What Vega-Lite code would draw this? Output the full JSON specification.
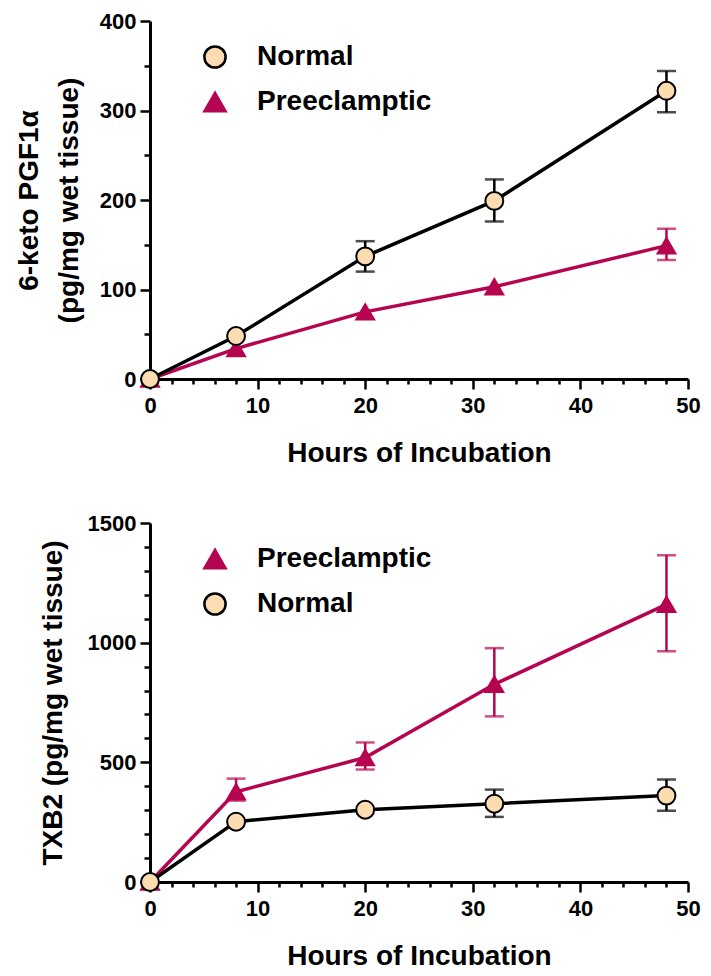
{
  "$schema": "https://vega.github.io/schema/vega-lite/v6.json",
  "background": "white",
  "padding": {"left": 15, "top": 10, "right": 5, "bottom": 5},
  "spacing": 45,
  "config": {
    "view": {"stroke": null},
    "axis": {
      "grid": false,
      "domainColor": "black",
      "domainWidth": 3,
      "tickColor": "black",
      "tickWidth": 2.5,
      "labelFont": "Liberation Sans",
      "labelFontWeight": "bold",
      "labelFontSize": 22,
      "labelColor": "black",
      "labelOverlap": false,
      "labelFlush": false,
      "titleFont": "Liberation Sans",
      "titleFontWeight": "bold",
      "titleFontSize": 28,
      "titleColor": "black"
    },
    "legend": {
      "labelFont": "Liberation Sans",
      "labelFontWeight": "bold",
      "labelFontSize": 28,
      "labelColor": "black",
      "labelLimit": 400
    }
  },
  "datasets": {
    "keto": [
      {"group": "Preeclamptic", "hours": 0, "value": 0, "lo": null, "hi": null},
      {"group": "Preeclamptic", "hours": 8, "value": 34, "lo": null, "hi": null},
      {"group": "Preeclamptic", "hours": 20, "value": 75, "lo": null, "hi": null},
      {"group": "Preeclamptic", "hours": 32, "value": 103, "lo": null, "hi": null},
      {"group": "Preeclamptic", "hours": 48, "value": 149, "lo": 133, "hi": 168},
      {"group": "Normal", "hours": 0, "value": 0, "lo": null, "hi": null},
      {"group": "Normal", "hours": 8, "value": 48, "lo": null, "hi": null},
      {"group": "Normal", "hours": 20, "value": 137, "lo": 120, "hi": 154},
      {"group": "Normal", "hours": 32, "value": 199, "lo": 176, "hi": 223},
      {"group": "Normal", "hours": 48, "value": 322, "lo": 298, "hi": 344}
    ],
    "txb2": [
      {"group": "Preeclamptic", "hours": 0, "value": 0, "lo": null, "hi": null},
      {"group": "Preeclamptic", "hours": 8, "value": 377, "lo": 340, "hi": 432},
      {"group": "Preeclamptic", "hours": 20, "value": 520, "lo": 470, "hi": 583},
      {"group": "Preeclamptic", "hours": 32, "value": 826, "lo": 692, "hi": 977},
      {"group": "Preeclamptic", "hours": 48, "value": 1160, "lo": 964, "hi": 1365},
      {"group": "Normal", "hours": 0, "value": 0, "lo": null, "hi": null},
      {"group": "Normal", "hours": 8, "value": 252, "lo": null, "hi": null},
      {"group": "Normal", "hours": 20, "value": 302, "lo": null, "hi": null},
      {"group": "Normal", "hours": 32, "value": 327, "lo": 272, "hi": 386},
      {"group": "Normal", "hours": 48, "value": 361, "lo": 298, "hi": 428}
    ]
  },
  "resolve": {
    "scale": {"x": "independent", "y": "independent", "stroke": "independent", "fill": "independent", "shape": "independent", "color": "independent"},
    "legend": {"shape": "independent", "stroke": "independent", "fill": "independent", "color": "independent"}
  },
  "vconcat": [
    {
      "width": 538,
      "height": 358,
      "data": {"name": "keto"},
      "encoding": {
        "x": {
          "field": "hours", "type": "quantitative",
          "scale": {"domain": [0, 50], "nice": false, "zero": false},
          "axis": {
            "title": "Hours of Incubation",
            "values": [0,2,4,6,8,10,12,14,16,18,20,22,24,26,28,30,32,34,36,38,40,42,44,46,48,50],
            "labelExpr": "datum.value % 10 === 0 ? datum.label : ''",
            "tickSize": {"condition": {"test": "datum.value % 10 === 0", "value": 10}, "value": 5},
            "labelPadding": 6,
            "titlePadding": 23
          }
        },
        "y": {
          "field": "value", "type": "quantitative",
          "scale": {"domain": [0, 400], "nice": false},
          "axis": {
            "title": ["6-keto PGF1α", "(pg/mg wet tissue)"],
            "titleLineHeight": 40,
            "values": [0,50,100,150,200,250,300,350,400],
            "format": "d",
            "labelExpr": "datum.value % 100 === 0 ? datum.label : ''",
            "tickSize": {"condition": {"test": "datum.value % 100 === 0", "value": 10}, "value": 6},
            "labelPadding": 4,
            "titlePadding": 16
          }
        }
      },
      "layer": [
        {
          "transform": [{"filter": "datum.lo != null"}],
          "mark": {"type": "errorbar", "ticks": true, "size": 19, "thickness": 2.5},
          "encoding": {
            "y": {"field": "lo", "type": "quantitative"},
            "y2": {"field": "hi"},
            "color": {"field": "group", "type": "nominal", "scale": {"range": ["#000000", "#b50550"]}, "legend": null}
          }
        },
        {
          "mark": {"type": "line", "strokeWidth": 3.5},
          "encoding": {
            "stroke": {"field": "group", "type": "nominal", "scale": {"domain": ["Normal", "Preeclamptic"], "range": ["#000000", "#b50550"]}}
          }
        },
        {
          "mark": {"type": "point", "filled": false, "size": 320, "strokeWidth": 2, "opacity": 1, "fillOpacity": 1},
          "encoding": {
            "stroke": {"field": "group", "type": "nominal", "scale": {"domain": ["Normal", "Preeclamptic"], "range": ["#000000", "#b50550"]}},
            "fill": {"field": "group", "type": "nominal", "scale": {"domain": ["Normal", "Preeclamptic"], "range": ["#fddcb2", "#b50550"]}},
            "shape": {
              "field": "group", "type": "nominal",
              "scale": {"domain": ["Normal", "Preeclamptic"], "range": ["circle", "triangle-up"]},
              "legend": {
                "title": null, "orient": "none", "legendX": 51, "legendY": 22,
                "symbolSize": 450, "symbolStrokeWidth": 2.5, "rowPadding": 14, "labelOffset": 28, "padding": 0
              }
            }
          }
        }
      ]
    },
    {
      "width": 538,
      "height": 359,
      "data": {"name": "txb2"},
      "encoding": {
        "x": {
          "field": "hours", "type": "quantitative",
          "scale": {"domain": [0, 50], "nice": false, "zero": false},
          "axis": {
            "title": "Hours of Incubation",
            "values": [0,2,4,6,8,10,12,14,16,18,20,22,24,26,28,30,32,34,36,38,40,42,44,46,48,50],
            "labelExpr": "datum.value % 10 === 0 ? datum.label : ''",
            "tickSize": {"condition": {"test": "datum.value % 10 === 0", "value": 10}, "value": 5},
            "labelPadding": 6,
            "titlePadding": 23
          }
        },
        "y": {
          "field": "value", "type": "quantitative",
          "scale": {"domain": [0, 1500], "nice": false},
          "axis": {
            "title": "TXB2 (pg/mg wet tissue)",
            "values": [0,100,200,300,400,500,600,700,800,900,1000,1100,1200,1300,1400,1500],
            "format": "d",
            "labelExpr": "datum.value % 500 === 0 ? datum.label : ''",
            "tickSize": {"condition": {"test": "datum.value % 500 === 0", "value": 10}, "value": 6},
            "labelPadding": 4,
            "titlePadding": 20
          }
        }
      },
      "layer": [
        {
          "transform": [{"filter": "datum.lo != null"}],
          "mark": {"type": "errorbar", "ticks": true, "size": 19, "thickness": 2.5},
          "encoding": {
            "y": {"field": "lo", "type": "quantitative"},
            "y2": {"field": "hi"},
            "color": {"field": "group", "type": "nominal", "scale": {"range": ["#000000", "#b50550"]}, "legend": null}
          }
        },
        {
          "mark": {"type": "line", "strokeWidth": 3.5},
          "encoding": {
            "stroke": {"field": "group", "type": "nominal", "scale": {"domain": ["Preeclamptic", "Normal"], "range": ["#b50550", "#000000"]}}
          }
        },
        {
          "mark": {"type": "point", "filled": false, "size": 320, "strokeWidth": 2, "opacity": 1, "fillOpacity": 1},
          "encoding": {
            "stroke": {"field": "group", "type": "nominal", "scale": {"domain": ["Preeclamptic", "Normal"], "range": ["#b50550", "#000000"]}},
            "fill": {"field": "group", "type": "nominal", "scale": {"domain": ["Preeclamptic", "Normal"], "range": ["#b50550", "#fddcb2"]}},
            "shape": {
              "field": "group", "type": "nominal",
              "scale": {"domain": ["Preeclamptic", "Normal"], "range": ["triangle-up", "circle"]},
              "legend": {
                "title": null, "orient": "none", "legendX": 51, "legendY": 22,
                "symbolSize": 450, "symbolStrokeWidth": 2.5, "rowPadding": 14, "labelOffset": 28, "padding": 0
              }
            }
          }
        }
      ]
    }
  ]
}
